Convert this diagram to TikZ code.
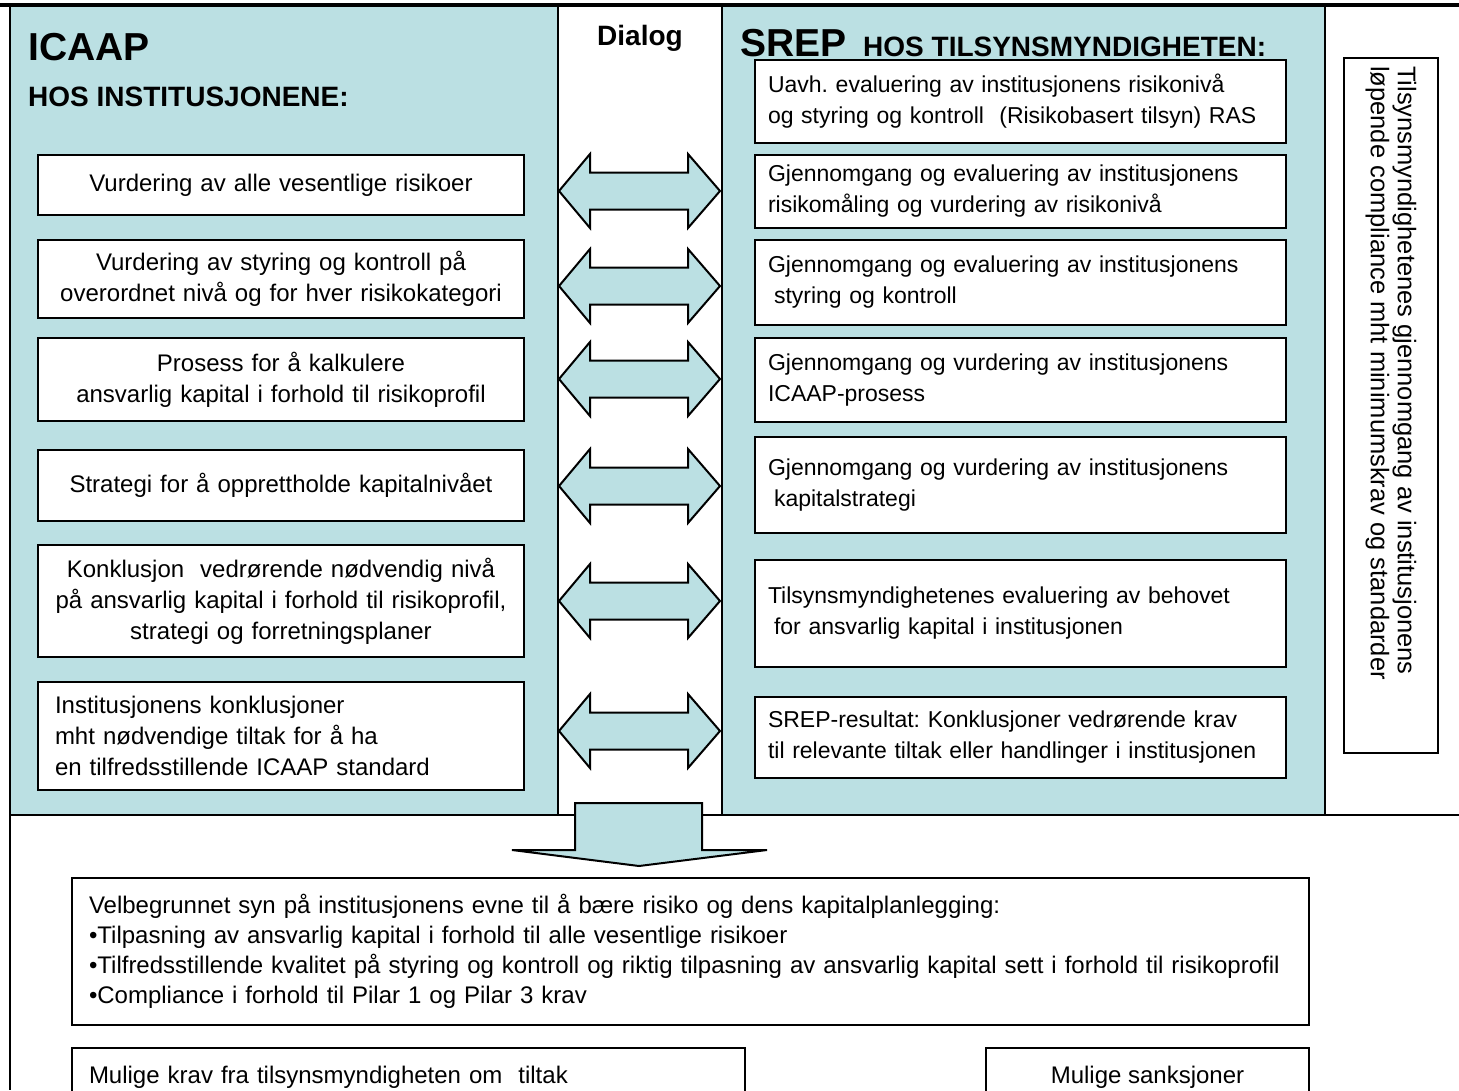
\documentclass[tikz,border=0pt]{standalone}
\usepackage{fontspec}
\setmainfont{Liberation Sans}
\frenchspacing
\usetikzlibrary{positioning}
\definecolor{panel}{HTML}{BBE0E3}

\begin{document}
\begin{tikzpicture}[
  x=1pt, y=-1pt, line join=miter,
  font=\fontsize{24}{31}\selectfont,
  box/.style={draw,line width=2pt,fill=white,inner xsep=10pt,inner ysep=0pt,outer sep=0pt},
  lbox/.style={box,text width=466pt,align=center},
  rbox/.style={box,text width=505pt,inner xsep=13pt,align=left,font=\fontsize{23}{31}\selectfont},
  head/.style={font=\bfseries\fontsize{28}{32}\selectfont,inner sep=0pt,anchor=base west},
  big/.style={font=\bfseries\fontsize{39}{44}\selectfont,inner sep=0pt,anchor=base west},
  dlg/.style={draw,line width=2pt,fill=panel}
]
\useasboundingbox (0,0) rectangle (1459,1090);
% panels and frame
\fill[panel] (10,5) rectangle (558,815);
\fill[panel] (722,5) rectangle (1325,815);
\draw[line width=2pt] (10,5) -- (10,1090) (558,5) -- (558,815) (722,5) -- (722,815)
  (1325,5) -- (1325,815) (10,815) -- (1459,815);
\draw[line width=4pt] (0,5) -- (1459,5);

% headings
\node[big] (icaap) at (28,60) {ICAAP};
\node[head] (hosinst) at (28,106) {HOS INSTITUSJONENE:};
\node[head,anchor=base] (dialog) at (640,45) {Dialog};
\node[big] (srep) at (740,56) {SREP};
\node[head] (hostils) at (863,56) {HOS TILSYNSMYNDIGHETEN:};

% ICAAP side
\node[lbox,minimum height=60pt] (l1) at (281,185) {Vurdering av alle vesentlige risikoer};
\node[lbox,minimum height=78pt,below=25pt of l1] (l2) {Vurdering av styring og kontroll på\\overordnet nivå og for hver risikokategori};
\node[lbox,minimum height=83pt,below=20pt of l2] (l3) {Prosess for å kalkulere\\ansvarlig kapital i forhold til risikoprofil};
\node[lbox,minimum height=71pt,below=29pt of l3] (l4) {Strategi for å opprettholde kapitalnivået};
\node[lbox,minimum height=112pt,below=24pt of l4] (l5) {Konklusjon\ \ vedrørende nødvendig nivå\\på ansvarlig kapital i forhold til risikoprofil,\\strategi og forretningsplaner};
\node[lbox,minimum height=108pt,below=25pt of l5,align=left,inner xsep=17pt,text width=452pt] (l6) {Institusjonens konklusjoner\\mht nødvendige tiltak for å ha\\en tilfredsstillende ICAAP standard};

% SREP side
\node[rbox,minimum height=83pt] (r1) at (1020.5,101.5) {Uavh. evaluering av institusjonens risikonivå\\og styring og kontroll\ \ (Risikobasert tilsyn) RAS};
\node[rbox,minimum height=73pt,below=12pt of r1] (r2) {Gjennomgang og evaluering av institusjonens\\risikomåling og vurdering av risikonivå};
\node[rbox,minimum height=85pt,below=12pt of r2] (r3) {Gjennomgang og evaluering av institusjonens\\\hspace*{6pt}styring og kontroll};
\node[rbox,minimum height=84pt,below=13pt of r3] (r4) {Gjennomgang og vurdering av institusjonens\\ICAAP-prosess};
\node[rbox,minimum height=96pt,below=15pt of r4] (r5) {Gjennomgang og vurdering av institusjonens\\\hspace*{6pt}kapitalstrategi};
\node[rbox,minimum height=107pt,below=27pt of r5] (r6) {Tilsynsmyndighetenes evaluering av behovet\\\hspace*{6pt}for ansvarlig kapital i institusjonen};
\node[rbox,minimum height=81pt,below=30pt of r6] (r7) {SREP-resultat: Konklusjoner vedrørende krav\\til relevante tiltak eller handlinger i institusjonen};

% compliance column
\node[draw,line width=2pt,minimum width=94pt,minimum height=695pt,anchor=north west,inner sep=0pt] (compl) at (1343,57) {};
\node[rotate=-90,anchor=west,align=left,inner sep=0pt,font=\fontsize{25.5}{27}\selectfont] (compltxt) at ([yshift=-9pt]compl.north) {Tilsynsmyndighetenes gjennomgang av institusjonens\\løpende compliance mht minimumskrav og standarder};

% dialog arrows
\foreach \y in {191,286,379,486,601,731}
  \draw[dlg] (559,\y) -- (590,\y-37) -- (590,\y-18.5) -- (688,\y-18.5) -- (688,\y-37) -- (720,\y)
    -- (688,\y+37) -- (688,\y+18.5) -- (590,\y+18.5) -- (590,\y+37) -- cycle;
\draw[dlg] (575,803) -- (702,803) -- (702,850) -- (767,850) -- (639,866) -- (512,850) -- (575,850) -- cycle;

% result
\node[box,anchor=north west,align=left,inner xsep=17pt,text width=1203pt,minimum height=147pt,font=\fontsize{24}{30}\selectfont] (view) at (72,878) {Velbegrunnet syn på institusjonens evne til å bære risiko og dens kapitalplanlegging:\\•Tilpasning av ansvarlig kapital i forhold til alle vesentlige risikoer\\•Tilfredsstillende kvalitet på styring og kontroll og riktig tilpasning av ansvarlig kapital sett i forhold til risikoprofil\\•Compliance i forhold til Pilar 1 og Pilar 3 krav};
\node[box,anchor=north west,align=left,inner xsep=17pt,text width=639pt,minimum height=58pt] (krav) at (72,1048) {Mulige krav fra tilsynsmyndigheten om\ \ tiltak};
\node[box,anchor=north west,minimum width=323pt,minimum height=58pt] (sanks) at (986,1048) {Mulige sanksjoner};
\end{tikzpicture}
\end{document}
